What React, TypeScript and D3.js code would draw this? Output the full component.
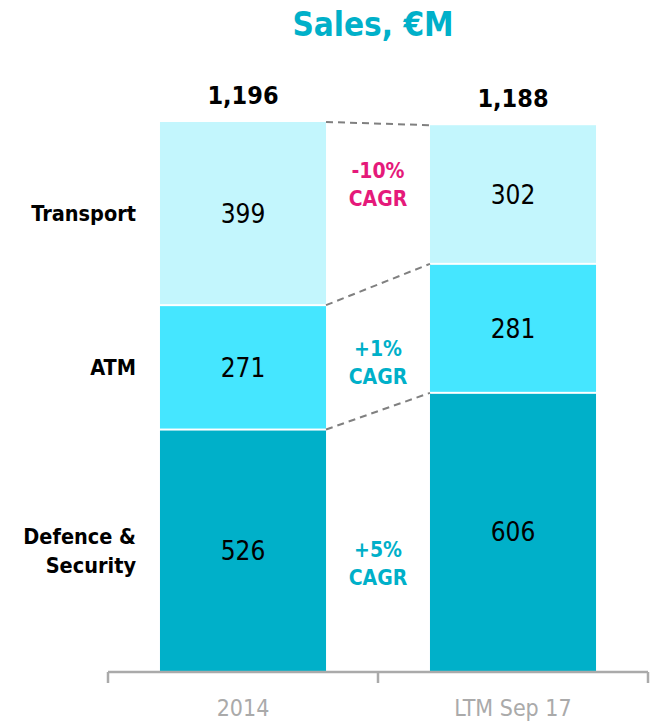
import React from "react";
import * as d3 from "d3";

const periods = ["2014", "LTM Sep 17"];
const segments = ["Defence & Security", "ATM", "Transport"];
const segmentLabels = [["Defence &", "Security"], ["ATM"], ["Transport"]];
const values2014 = [526, 271, 399];
const valuesLTM = [606, 281, 302];
const totals = ["1,196", "1,188"];
const cagrTexts = ["+5%", "+1%", "-10%"];

const W = 650, H = 721;
const FONT = "'DejaVu Sans Condensed', 'DejaVu Sans', sans-serif";
const fills = ["#00B0C9", "#45E6FF", "#C3F6FD"];
const cagrColors = ["#00B0C9", "#00B0C9", "#E5197A"];
const cagrOffsets = [22, 15, -20];

export default function App() {
  const data = [values2014, valuesLTM];
  const x = d3.scaleBand<string>().domain(periods).range([108, 648]).paddingInner(0.385).paddingOuter(0.1925);
  const y = d3.scaleLinear().domain([0, d3.sum(values2014)]).range([671, 122]);
  const stacks = data.map((vals) => {
    let acc = 0;
    return vals.map((v) => {
      const s = { y0: acc, y1: acc + v, v };
      acc += v;
      return s;
    });
  });
  const bw = x.bandwidth();
  const x0 = x(periods[0])!, x1 = x(periods[1])!;

  return (
    <svg width={W} height={H} style={{ position: "absolute", left: 0, top: 0 }} fontFamily={FONT}>
      <text x={373} y={36} textAnchor="middle" fontSize={33} fontWeight="bold" fill="#00B0C9">Sales, €M</text>
      {stacks.map((st, i) => (
        <g key={i}>
          {st.map((s, j) => (
            <g key={j}>
              <rect x={x(periods[i])} y={y(s.y1) + (j === st.length - 1 ? 0 : 1)} width={bw}
                height={y(s.y0) - y(s.y1) - (j === st.length - 1 ? 1 : 2) + (j === 0 ? 1 : 0)} fill={fills[j]} />
              <text x={x(periods[i])! + bw / 2} y={(y(s.y0) + y(s.y1)) / 2} dy="0.36em" textAnchor="middle" fontSize={26} fill="#000">{s.v}</text>
            </g>
          ))}
          <text x={x(periods[i])! + bw / 2} y={y(st[st.length - 1].y1) - 18} textAnchor="middle" fontSize={25} fontWeight="bold" fill="#000">{totals[i]}</text>
        </g>
      ))}
      {stacks[0].map((s, j) => (
        <line key={j} x1={x0 + bw} y1={y(s.y1)} x2={x1} y2={y(stacks[1][j].y1)} stroke="#808080" strokeWidth={2} strokeDasharray="7,5" />
      ))}
      {segmentLabels.map((lines, j) => {
        const s = stacks[0][j];
        const cy = (y(s.y0) + y(s.y1)) / 2;
        return (
          <text key={j} x={136} y={cy - (lines.length - 1) * 14.5} dy="0.36em" textAnchor="end" fontSize={21.5} fontWeight="bold" fill="#000">
            {lines.map((l, k) => <tspan key={k} x={136} dy={k === 0 ? "0.36em" : 29}>{l}</tspan>)}
          </text>
        );
      })}
      {cagrTexts.map((t, j) => {
        const cy = ((y(stacks[0][j].y0) + y(stacks[0][j].y1)) / 2 + (y(stacks[1][j].y0) + y(stacks[1][j].y1)) / 2) / 2 + cagrOffsets[j];
        const cx = (x0 + bw + x1) / 2;
        return (
          <text key={j} textAnchor="middle" fontSize={21} fontWeight="bold" fill={cagrColors[j]}>
            <tspan x={cx} y={cy - 14} dy="0.36em">{t}</tspan>
            <tspan x={cx} y={cy + 14} dy="0.36em">CAGR</tspan>
          </text>
        );
      })}
      <g stroke="#AAAAAA" strokeWidth={2.5} fill="none">
        <line x1={108} y1={672} x2={648} y2={672} />
        {[108, 378, 648].map((tx) => <line key={tx} x1={tx} y1={672} x2={tx} y2={683} />)}
      </g>
      {periods.map((p) => (
        <text key={p} x={x(p)! + bw / 2} y={716} textAnchor="middle" fontSize={23} fill="#AAAAAA">{p}</text>
      ))}
    </svg>
  );
}
